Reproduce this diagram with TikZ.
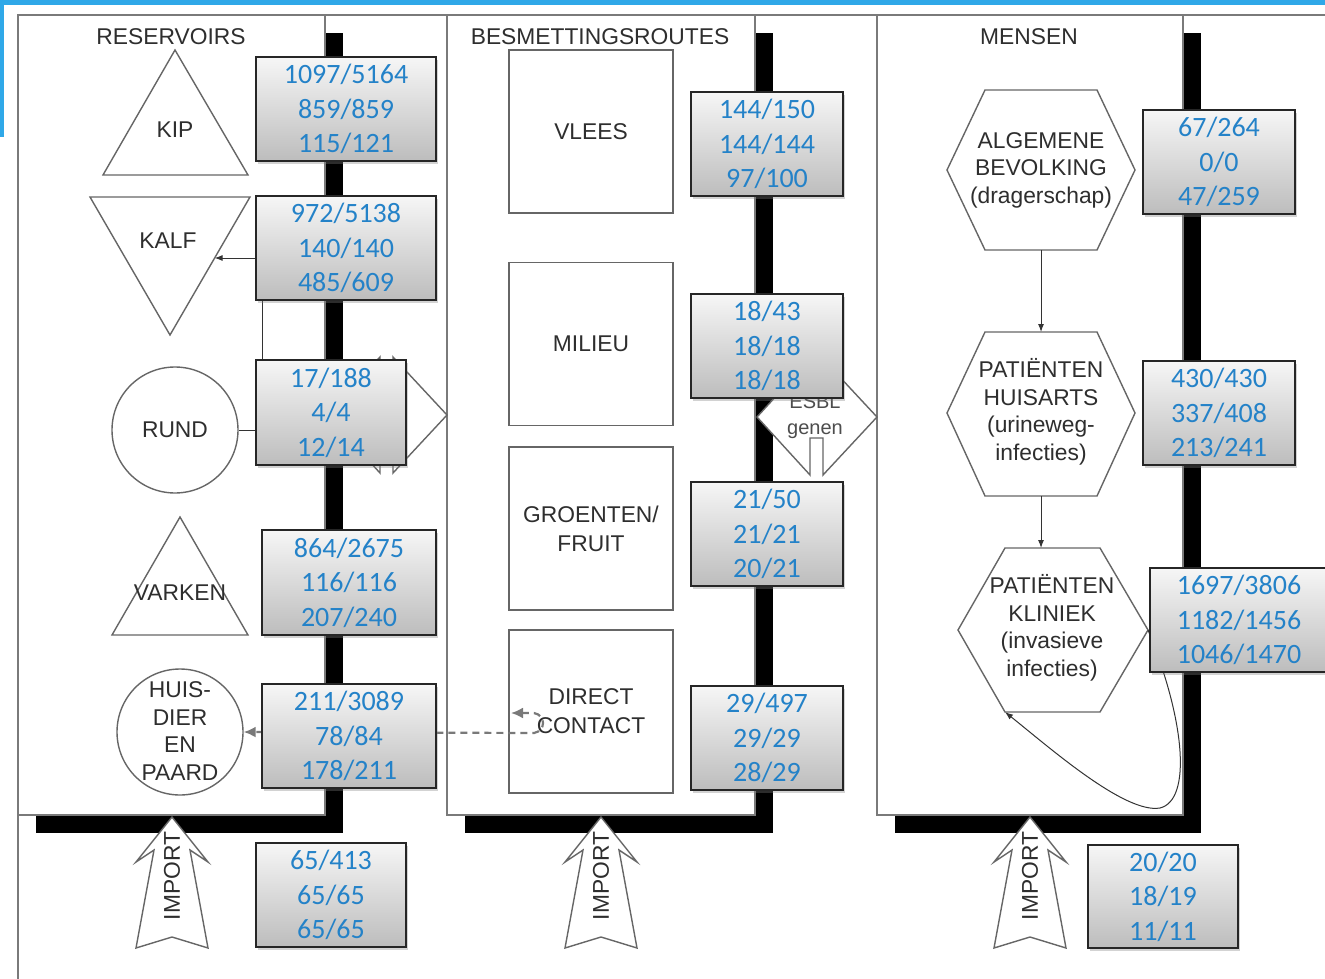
\documentclass[tikz,border=0pt]{standalone}
\usepackage{fontspec}
\setmainfont{Liberation Sans}
\newfontfamily\numfont{Carlito}
\usetikzlibrary{shadows,arrows.meta}
\definecolor{blueframe}{HTML}{2FA8E8}
\definecolor{numblue}{HTML}{2482C8}
\definecolor{labelgray}{HTML}{2E2E2E}
\definecolor{linegray}{HTML}{7A7A7A}
\definecolor{shapegray}{HTML}{666666}
\begin{document}
\begin{tikzpicture}[x=1pt,y=-1pt,
  panel/.style={draw=linegray, line width=1.6pt, fill=white},
  shapeline/.style={draw=shapegray, line width=1.4pt, fill=white},
  circ/.style={circle, draw=shapegray, line width=1.4pt, fill=white, minimum size=126pt, inner sep=0pt},
  lbl/.style={text=labelgray, font=\fontsize{22.8}{27.5}\selectfont, align=center, inner sep=0pt},
  routebox/.style={draw=shapegray, line width=1.4pt, fill=white, minimum width=164pt, minimum height=163pt, text=labelgray, font=\fontsize{22.8}{29}\selectfont, align=center, inner sep=0pt},
  databox/.style={draw=black!85, line width=1.7pt, top color=gray!7, bottom color=gray!52, drop shadow={shadow xshift=2pt, shadow yshift=-3pt, opacity=0.35}, text=numblue, font=\numfont\fontsize{28}{34.5}\selectfont, align=center, inner sep=0pt},
  conn/.style={line width=1pt, draw=black!80, -{Latex[length=8pt,width=6pt]}},
  dashconn/.style={line width=2.2pt, draw=gray!95!black, dash pattern=on 7pt off 5pt, {Latex[length=12pt,width=11pt]}-{Latex[length=12pt,width=11pt]}},
  importarrow/.style={draw=shapegray, line width=1.4pt, fill=white},
]
\useasboundingbox (0,0) rectangle (1325,979);
% blue screenshot frame
\fill[blueframe] (0,0) rectangle (1325,5);
\fill[blueframe] (0,0) rectangle (4,137);
% panel shadows
\fill[black] (36,33) rectangle (343,833);
\fill[black] (465,33) rectangle (773,833);
\fill[black] (895,33) rectangle (1201,833);
% panels
\draw[panel] (18,15) rectangle (325,815);
\draw[panel] (447,15) rectangle (755,815);
\draw[panel] (877,15) rectangle (1183,815);
\draw[linegray, line width=1.6pt] (18,979) -- (18,15) -- (1325,15);
% titles
\node[lbl] (tres) at (171,37) {RESERVOIRS};
\node[lbl] (tbes) at (600,37) {BESMETTINGSROUTES};
\node[lbl] (tmen) at (1029,37) {MENSEN};
% reservoirs
\draw[shapeline] (175,50) -- (248,175) -- (103,175) -- cycle;
\node[lbl] (kip) at (175,130) {KIP};
\draw[shapeline] (90,197) -- (250,197) -- (170,335) -- cycle;
\node[lbl] (kalf) at (168,241) {KALF};
\coordinate (kalfR) at (214.6,258);
\node[circ, lbl] (rund) at (175,430) {RUND};
\draw[shapeline] (180,517) -- (248,635) -- (112,635) -- cycle;
\node[lbl] (varken) at (180,593) {VARKEN};
\node[circ] (huis) at (180,732) {};
\node[lbl] (huist) at (180,731) {HUIS-\\DIER\\EN\\PAARD};
% connector rund -> kalf
\draw[conn] (rund.east) -- (262,430) -- (262,258) -- (kalfR);
% block arrow behind rund box
\draw[shapeline] (327,415) -- (380,473) -- (380,436) -- (393,436) -- (393,473) -- (447,415) -- (393,357) -- (393,394) -- (380,394) -- (380,357) -- cycle;
% ESBL arrow shape
\draw[shapeline] (757,417) -- (810,475) -- (810,438) -- (823,438) -- (823,475) -- (877,417) -- (823,359) -- (823,396) -- (810,396) -- (810,359) -- cycle;
\node[text=labelgray!85, font=\fontsize{20}{26}\selectfont, align=center, inner sep=0pt] (esbl) at (815,417) {ESBL\\genen};
% routes
\node[routebox] (vlees) at (591,131.5) {VLEES};
\node[routebox] (milieu) at (591,344) {MILIEU};
\node[routebox] (groenten) at (591,528.5) {GROENTEN/\\FRUIT};
\node[routebox] (direct) at (591,711.5) {DIRECT\\CONTACT};
% dashed connector
\coordinate (dcTip) at (511,713);
\draw[dashconn] (dcTip) -- (534,713) .. controls (546,715) and (546,731) .. (534,733) -- (huis.east);
% mensen hexagons
\draw[shapeline] (947,170) -- (985,90) -- (1097,90) -- (1135,170) -- (1097,250) -- (985,250) -- cycle;
\node[lbl] (alg) at (1041,170) {ALGEMENE\\BEVOLKING\\(dragerschap)};
\draw[shapeline] (947,413) -- (985,332) -- (1097,332) -- (1135,413) -- (1097,496) -- (985,496) -- cycle;
\node[lbl] (huisarts) at (1041,412) {PATIËNTEN\\HUISARTS\\(urineweg-\\infecties)};
\draw[shapeline] (958,630) -- (1005,548) -- (1100,548) -- (1148,630) -- (1100,712) -- (1005,712) -- cycle;
\node[lbl] (kliniek) at (1052,628) {PATIËNTEN\\KLINIEK\\(invasieve\\infecties)};
\coordinate (algB) at (1041,250);
\coordinate (haT) at (1041,332);
\coordinate (haB) at (1041,496);
\coordinate (klT) at (1041,548);
\coordinate (klR) at (1148,630);
\coordinate (klBL) at (1005,712);
\draw[conn] (algB) -- (haT);
\draw[conn] (haB) -- (klT);
\draw[conn] (klR) .. controls (1185,720) and (1192,800) .. (1160,808) .. controls (1125,814) and (1050,748) .. (klBL);
% data boxes
\node[databox, minimum width=180pt, minimum height=104pt] (d1) at (346,109) {1097/5164\\859/859\\115/121};
\node[databox, minimum width=180pt, minimum height=104pt] (d2) at (346,248) {972/5138\\140/140\\485/609};
\node[databox, minimum width=150pt, minimum height=105pt] (d3) at (331,412.5) {17/188\\4/4\\12/14};
\node[databox, minimum width=174pt, minimum height=105pt] (d4) at (349,582.5) {864/2675\\116/116\\207/240};
\node[databox, minimum width=174pt, minimum height=104pt] (d5) at (349,736) {211/3089\\78/84\\178/211};
\node[databox, minimum width=150pt, minimum height=104pt] (d6) at (331,895) {65/413\\65/65\\65/65};
\node[databox, minimum width=152pt, minimum height=104pt] (m1) at (767,144) {144/150\\144/144\\97/100};
\node[databox, minimum width=152pt, minimum height=104pt] (m2) at (767,346) {18/43\\18/18\\18/18};
\node[databox, minimum width=152pt, minimum height=104pt] (m3) at (767,534) {21/50\\21/21\\20/21};
\node[databox, minimum width=152pt, minimum height=104pt] (m4) at (767,738) {29/497\\29/29\\28/29};
\node[databox, minimum width=152pt, minimum height=104pt] (r1) at (1219,162) {67/264\\0/0\\47/259};
\node[databox, minimum width=152pt, minimum height=104pt] (r2) at (1219,413) {430/430\\337/408\\213/241};
\node[databox, minimum width=178pt, minimum height=104pt] (r3) at (1239,620) {1697/3806\\1182/1456\\1046/1470};
\node[databox, minimum width=150pt, minimum height=103pt] (r4) at (1163,896.5) {20/20\\18/19\\11/11};
% import arrows
\foreach \cx/\nm in {172/impa,601/impb,1030/impc}{
  \begin{scope}[shift={(\cx,0)}]
    \draw[importarrow] (0,817) -- (36,862) -- (18,850) -- (36,948) -- (0,937) -- (-36,948) -- (-18,850) -- (-36,862) -- cycle;
    \node[lbl, rotate=90] (\nm) at (0,876) {IMPORT};
  \end{scope}
}
\end{tikzpicture}
\end{document}
